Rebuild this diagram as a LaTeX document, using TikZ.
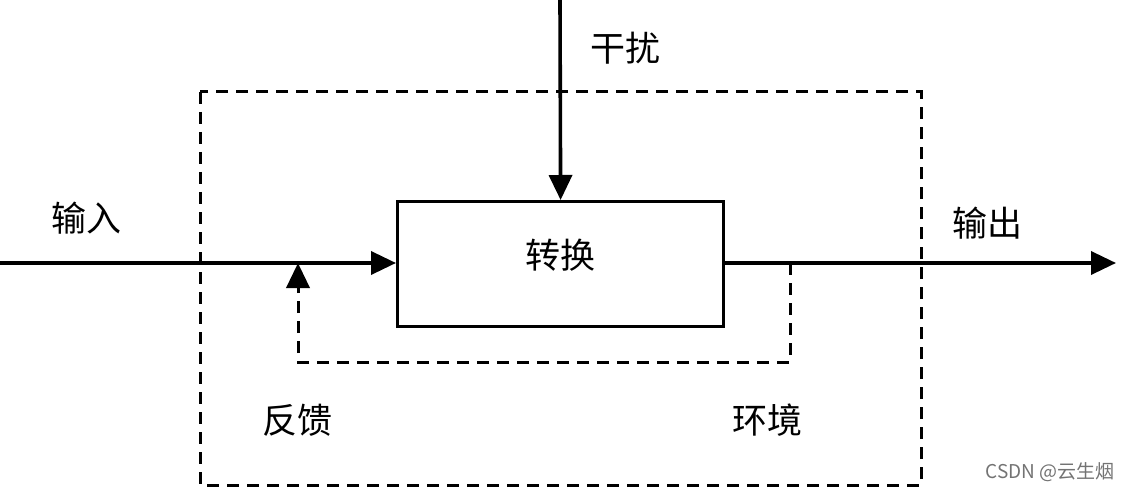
\documentclass[tikz,border=0pt]{standalone}
\usepackage{fontspec}
\setmainfont{Noto Sans CJK SC}
\usetikzlibrary{arrows.meta, positioning, calc}

\begin{document}
\begin{tikzpicture}[x=1pt,y=-1pt,box/.style={rectangle, draw, line width=3.2pt, minimum width=326pt, minimum height=125pt, inner sep=0pt},arrow/.style={-{Triangle[length=25pt,width=23pt]}, line width=3.6pt},dline/.style={line width=3pt, dash pattern=on 12pt off 8pt},label/.style={font=\fontsize{35}{40}\selectfont, inner sep=0pt}]
\useasboundingbox (0,0) rectangle (1125,492);
\draw[dline] (200,92) rectangle (921,485);
\node[box, anchor=north west] (conv) at (396,200) {};
\node[label] at (560,255) {转换};
\coordinate (in) at (0,263);
\coordinate (out) at (1116,263);
\coordinate (dist) at (560,0);
\coordinate (tap) at (790,263);
\coordinate (fb) at (298,263);
\draw[arrow] (in) -- (conv.west |- in);
\draw[arrow] (conv.east |- out) -- (out);
\draw[arrow] (dist) -- (conv.north);
\draw[dline] (tap) -- (790,362) -- (298,362) -- ($(fb)+(0,24)$);
\draw[arrow] ($(fb)+(0,25)$) -- (fb);
\node[label] (lin) at (86,218) {输入};
\node[label] (lout) at (987,223) {输出};
\node[label] (ldist) at (625,48) {干扰};
\node[label] (lfb) at (297,420) {反馈};
\node[label] (lenv) at (767,420) {环境};
\node[font=\fontsize{19}{22}\selectfont, text=black!55, anchor=east, inner sep=0pt] (mark) at (1115,472) {CSDN @云生烟};
\end{tikzpicture}
\end{document}
